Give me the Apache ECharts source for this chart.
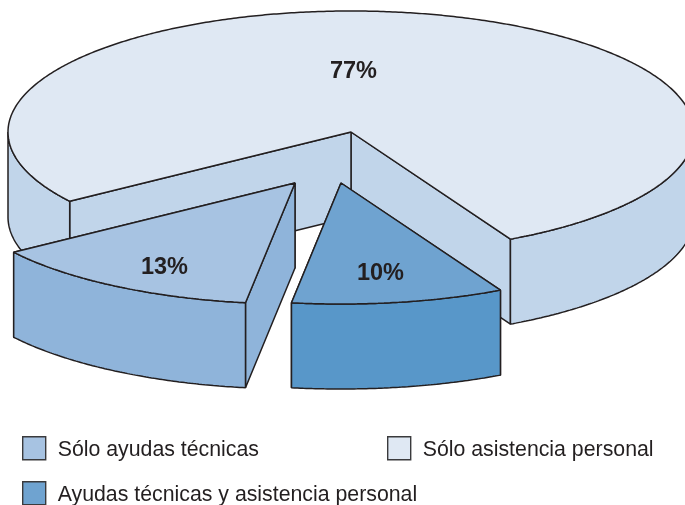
<!DOCTYPE html>
<html><head><meta charset="utf-8">
<style>html,body{margin:0;padding:0;background:#fff}#c{width:685px;height:505px}</style>
<script src="https://cdn.jsdelivr.net/npm/echarts@6/dist/echarts.min.js"></script>
</head><body><div id="c"></div>
<script>
// Data
const categories = ['Sólo asistencia personal', 'Ayudas técnicas y asistencia personal', 'Sólo ayudas técnicas'];
const shares = [77, 10, 13];
const shareLabels = ['77%', '10%', '13%'];

// Style and layout
const topColors = ['#DFE8F3', '#6FA3D0', '#A7C3E2'];
const wallColors = ['#C1D5EA', '#5897C9', '#8FB4DA'];
const explode = [[0, 0], [-10, 51], [-56, 51]];
const labelAt = [[353.5, 71.5], [380.5, 273.5], [164.5, 267.5]];
const pie = { cx: 351, cy: 132, rx: 343, ry: 121, depth: 85, start: 145.1 };
const INK = '#231F20';
const total = shares.reduce((a, b) => a + b, 0);

function pt(deg, o) {
  const r = deg * Math.PI / 180;
  return [pie.cx + o[0] + pie.rx * Math.cos(r), pie.cy + o[1] + pie.ry * Math.sin(r)];
}
function arc(a, b, o) {
  const out = [], n = Math.max(2, Math.ceil(Math.abs(b - a) * 2));
  for (let i = 0; i <= n; i++) out.push(pt(a + (b - a) * i / n, o));
  return out;
}
const down = p => [p[0], p[1] + pie.depth];
const poly = (points, fill, z2) => ({
  type: 'polygon', z2,
  shape: { points },
  style: { fill, stroke: INK, lineWidth: 1.5, lineJoin: 'bevel' }
});

function sliceItem(index, value) {
  let a0 = pie.start;
  for (let i = 0; i < index; i++) a0 += shares[i] / total * 360;
  const a1 = a0 + value / total * 360;
  const o = explode[index];
  const c = [pie.cx + o[0], pie.cy + o[1]];
  const wall = wallColors[index];
  const kids = [];
  // radial walls, the far one first
  [a1, a0].forEach(a => {
    const p = pt(a, o);
    kids.push(poly([c, p, down(p), down(c)], wall, 1));
  });
  // outer wall: only the front half of the rim shows
  for (let k = 0; k < 2; k++) {
    const lo = Math.max(a0, k * 360), hi = Math.min(a1, k * 360 + 180);
    if (hi > lo) {
      const rim = arc(lo, hi, o);
      kids.push(poly(rim.concat(rim.map(down).reverse()), wall, 2));
    }
  }
  // top face
  kids.push(poly([c].concat(arc(a0, a1, o)), topColors[index], 3));
  kids.push({
    type: 'text', z2: 4,
    style: {
      text: shareLabels[index], x: labelAt[index][0], y: labelAt[index][1],
      align: 'center', verticalAlign: 'middle', fill: INK,
      font: 'bold 23.5px "Liberation Sans", Arial, sans-serif'
    }
  });
  return { type: 'group', children: kids };
}

const series = categories.map((name, i) => ({
  type: 'custom', name, coordinateSystem: 'none', z: 2 + i,
  silent: true, animation: false,
  itemStyle: { color: topColors[i] },
  data: [shares[i]],
  renderItem: (params, api) => sliceItem(i, api.value(0))
}));

const legendFont = { color: INK, fontFamily: '"Liberation Sans", Arial, sans-serif', fontSize: 21.3 };
const legendBase = {
  orient: 'horizontal', selectedMode: false, icon: 'rect', padding: 0,
  itemWidth: 23, itemHeight: 23,
  itemStyle: { borderColor: '#3A3A3C', borderWidth: 1.4 },
  formatter: name => '{t|' + name + '}',
  textStyle: Object.assign({}, legendFont, {
    rich: { t: Object.assign({}, legendFont, { padding: [4, 0, 0, 7] }) }
  })
};
const chart = echarts.init(document.getElementById('c'), null, { renderer: 'canvas' });
chart.setOption({
  animation: false,
  backgroundColor: '#fff',
  legend: [
    Object.assign({}, legendBase, { data: [categories[2]], left: 22, top: 436 }),
    Object.assign({}, legendBase, { data: [categories[0]], left: 387, top: 436 }),
    Object.assign({}, legendBase, { data: [categories[1]], left: 22, top: 481 })
  ],
  series
});
</script></body></html>
